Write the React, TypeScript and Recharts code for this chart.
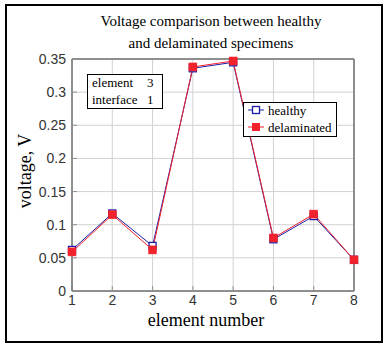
import React from 'react';
import { LineChart, Line, XAxis, YAxis, CartesianGrid, ReferenceLine } from 'recharts';

const elements = [1, 2, 3, 4, 5, 6, 7, 8];
const healthy = [0.062, 0.117, 0.068, 0.336, 0.345, 0.078, 0.113, 0.047];
const delaminated = [0.059, 0.115, 0.062, 0.338, 0.347, 0.080, 0.116, 0.047];
const yTicks = [0, 0.05, 0.1, 0.15, 0.2, 0.25, 0.3, 0.35];
const xTicks = [1, 2, 3, 4, 5, 6, 7, 8];

const titleLines = ['Voltage comparison between healthy', 'and delaminated specimens'];
const xLabel = 'element number';
const yLabel = 'voltage, V';
const infoRows = [
  { name: 'element', value: '3' },
  { name: 'interface', value: '1' },
];
const seriesNames = { healthy: 'healthy', delaminated: 'delaminated' };

const data = elements.map((e, i) => ({ element: e, healthy: healthy[i], delaminated: delaminated[i] }));

const BLUE = '#1c1ca8';
const RED = '#f2222c';
const SERIF = '"Liberation Serif", "Times New Roman", serif';
const SANS = '"Liberation Sans", Arial, sans-serif';

const HealthyDot = (p: any) => (
  <rect key={`h-${p.index}`} x={p.cx - 3.5} y={p.cy - 3.5} width={7} height={7} fill="#fff" stroke={BLUE} strokeWidth={1.3} />
);
const DelamDot = (p: any) => (
  <rect key={`d-${p.index}`} x={p.cx - 4} y={p.cy - 4} width={8} height={8} fill={RED} stroke={RED} strokeWidth={0.5} />
);

export default function App() {
  return (
    <div style={{ position: 'absolute', left: 0, top: 0, width: 388, height: 350, background: '#fff' }}>
      <div style={{ position: 'absolute', left: 0, top: 0 }}>
        <LineChart width={388} height={350} data={data} margin={{ top: 59, right: 34, bottom: 29, left: 12 }}>
          <CartesianGrid stroke="#d2d2d2" strokeWidth={1} />
          <XAxis
            type="number"
            dataKey="element"
            domain={[1, 8]}
            ticks={xTicks}
            height={30}
            tickSize={-5}
            tickMargin={9}
            axisLine={{ stroke: '#707070', strokeWidth: 1.5 }}
            tickLine={{ stroke: '#909090' }}
            tick={{ fill: '#333', fontSize: 14, fontFamily: SANS }}
            interval={0}
          />
          <YAxis
            type="number"
            domain={[0, 0.35]}
            ticks={yTicks}
            width={60}
            tickSize={-5}
            tickMargin={11}
            axisLine={{ stroke: '#707070', strokeWidth: 1.5 }}
            tickLine={{ stroke: '#909090' }}
            tick={{ fill: '#333', fontSize: 14, fontFamily: SANS }}
            interval={0}
          />
          <ReferenceLine y={0.35} stroke="#707070" strokeWidth={1.5} />
          <ReferenceLine x={8} stroke="#707070" strokeWidth={1.5} />
          <Line type="linear" dataKey="healthy" stroke={BLUE} strokeWidth={1} dot={HealthyDot} isAnimationActive={false} />
          <Line type="linear" dataKey="delaminated" stroke={RED} strokeWidth={1} dot={DelamDot} isAnimationActive={false} />
        </LineChart>
      </div>
      <svg width={388} height={350} style={{ position: 'absolute', left: 0, top: 0, pointerEvents: 'none' }}>
        <rect x={6} y={5} width={376} height={337} fill="none" stroke="#000" strokeWidth={2} />
        <text x={211} y={26} textAnchor="middle" fontFamily={SERIF} fontSize={15} fill="#000">{titleLines[0]}</text>
        <text x={211} y={48} textAnchor="middle" fontFamily={SERIF} fontSize={15} fill="#000">{titleLines[1]}</text>
        <text x={206} y={326} textAnchor="middle" fontFamily={SERIF} fontSize={18} fill="#000">{xLabel}</text>
        <text transform="translate(31,171) rotate(-90)" textAnchor="middle" fontFamily={SERIF} fontSize={18} fill="#000">{yLabel}</text>
        <rect x={87.5} y={74.5} width={75} height={34} fill="#fff" stroke="#000" strokeWidth={1} />
        {infoRows.map((r, i) => (
          <g key={r.name}>
            <text x={92} y={87 + i * 17} fontFamily={SERIF} fontSize={13} fill="#000">{r.name}</text>
            <text x={147} y={87 + i * 17} fontFamily={SERIF} fontSize={13} fill="#000">{r.value}</text>
          </g>
        ))}
        <rect x={243.5} y={102.5} width={93} height={34} fill="#fff" stroke="#000" strokeWidth={1} />
        <line x1={248} y1={110} x2={264} y2={110} stroke={BLUE} strokeWidth={1} />
        <rect x={252.5} y={106.5} width={7} height={7} fill="#fff" stroke={BLUE} strokeWidth={1.3} />
        <text x={268} y={114.5} fontFamily={SERIF} fontSize={13} fill="#000">{seriesNames.healthy}</text>
        <line x1={248} y1={127} x2={264} y2={127} stroke={RED} strokeWidth={1} />
        <rect x={252} y={123} width={8} height={8} fill={RED} />
        <text x={268} y={131.5} fontFamily={SERIF} fontSize={13} fill="#000">{seriesNames.delaminated}</text>
      </svg>
    </div>
  );
}
